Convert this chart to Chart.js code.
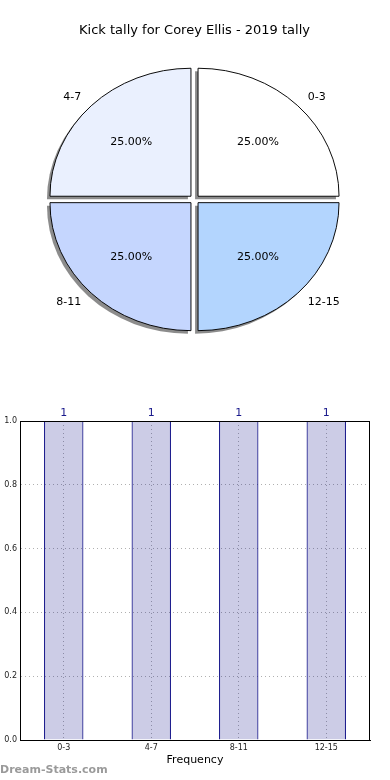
<!DOCTYPE html>
<html>
<head>
<meta charset="utf-8">
<script src="https://cdn.jsdelivr.net/npm/chart.js@4/dist/chart.umd.min.js"></script>
<style>
  html,body{margin:0;padding:0;background:#fff;}
  #wrap{position:relative;width:390px;height:780px;overflow:hidden;}
  #pieCanvas{position:absolute;left:0;top:0;}
  #barCanvas{position:absolute;left:0;top:380px;}
</style>
</head>
<body>
<div id="wrap">
  <canvas id="pieCanvas" width="390" height="380"></canvas>
  <canvas id="barCanvas" width="390" height="400"></canvas>
</div>
<script>
// data
const TITLE="Kick tally for Corey Ellis - 2019 tally";
const BINS=["0-3","4-7","8-11","12-15"];
const COUNTS=[1,1,1,1];
const PIE_COLORS=["#ffffff","#eaf0fe","#c5d6fe","#b3d5fe"];
const Y_TICKS=[0,0.2,0.4,0.6,0.8,1.0];
const X_TITLE="Frequency";
const WATERMARK="Dream-Stats.com";

const FONT="'DejaVu Sans', sans-serif";
const OFFSET=20;          // explode
const SQUASH=128/141;     // pie is drawn as an ellipse
const SHADOW=3;

// mirror + squash so slices go counter-clockwise from 3 o'clock
function pieTransform(ctx,cx,cy){
  ctx.translate(cx,cy); ctx.scale(-1,SQUASH); ctx.translate(-cx,-cy);
}
function toView(cx,cy,px,py){return [cx-(px-cx), cy+(py-cy)*SQUASH];}

const piePlugin={
  id:"piePlugin",
  beforeDatasetsDraw(chart){
    const ctx=chart.ctx, arcs=chart.getDatasetMeta(0).data;
    if(!arcs.length) return;
    const cx=arcs[0].x, cy=arcs[0].y;
    // shadow
    ctx.save();
    ctx.translate(-SHADOW,SHADOW);
    pieTransform(ctx,cx,cy);
    ctx.fillStyle="rgba(0,0,0,0.45)";
    arcs.forEach(a=>{
      const mid=(a.startAngle+a.endAngle)/2, o=OFFSET/4;
      const sx=a.x+Math.cos(mid)*o, sy=a.y+Math.sin(mid)*o;
      ctx.beginPath(); ctx.moveTo(sx,sy);
      ctx.arc(sx,sy,a.outerRadius,a.startAngle,a.endAngle);
      ctx.closePath(); ctx.fill();
    });
    ctx.restore();
    ctx.save();
    pieTransform(ctx,cx,cy);
  },
  afterDatasetsDraw(chart){
    const ctx=chart.ctx, arcs=chart.getDatasetMeta(0).data;
    ctx.restore();
    if(!arcs.length) return;
    const total=COUNTS.reduce((a,b)=>a+b,0);
    ctx.save();
    ctx.font="11px "+FONT; ctx.fillStyle="#000"; ctx.textBaseline="middle";
    arcs.forEach((a,i)=>{
      const mid=(a.startAngle+a.endAngle)/2, o=OFFSET/4;
      const sx=a.x+Math.cos(mid)*o, sy=a.y+Math.sin(mid)*o;
      let [px,py]=toView(a.x,a.y,sx+Math.cos(mid)*a.outerRadius*0.6, sy+Math.sin(mid)*a.outerRadius*0.6);
      ctx.textAlign="center";
      ctx.fillText((COUNTS[i]/total*100).toFixed(2)+"%",px,py);
      [px,py]=toView(a.x,a.y,sx+Math.cos(mid)*a.outerRadius*1.1, sy+Math.sin(mid)*a.outerRadius*1.1);
      ctx.textAlign= px>a.x ? "left":"right";
      ctx.fillText(BINS[i],px,py);
    });
    ctx.restore();
  }
};

new Chart(document.getElementById("pieCanvas"),{
  type:"pie",
  data:{labels:BINS,datasets:[{data:COUNTS,backgroundColor:PIE_COLORS,borderColor:"#000",borderWidth:1,offset:OFFSET,hoverOffset:0}]},
  options:{
    responsive:false,animation:false,events:[],rotation:-90,
    layout:{padding:{top:0,left:43,right:44,bottom:29}},
    plugins:{
      legend:{display:false},tooltip:{enabled:false},
      title:{display:true,text:TITLE,color:"#000",font:{family:FONT,size:13,weight:"normal",lineHeight:1.3},padding:{top:22,bottom:9}}
    }
  },
  plugins:[piePlugin]
});

const barPlugin={
  id:"barPlugin",
  afterDatasetsDraw(chart){
    const ctx=chart.ctx, a=chart.chartArea;
    ctx.save();
    ctx.strokeStyle="#000"; ctx.lineWidth=1;
    ctx.strokeRect(a.left+0.5,a.top+0.5,a.right-a.left-1,a.bottom-a.top);
    ctx.font="11px "+FONT; ctx.fillStyle="#1a1a8c"; ctx.textAlign="center"; ctx.textBaseline="alphabetic";
    chart.getDatasetMeta(0).data.forEach((b,i)=>ctx.fillText(String(COUNTS[i]),b.x,b.y-5));
    ctx.font="bold 11px "+FONT; ctx.fillStyle="rgba(120,120,120,0.75)"; ctx.textAlign="left"; ctx.textBaseline="middle";
    ctx.fillText(WATERMARK,0,chart.height-10);
    ctx.restore();
  }
};

new Chart(document.getElementById("barCanvas"),{
  type:"bar",
  data:{labels:BINS,datasets:[{data:COUNTS,backgroundColor:"rgba(0,0,128,0.2)",borderColor:"#000080",borderWidth:1,barPercentage:0.45,categoryPercentage:1}]},
  options:{
    responsive:false,animation:false,events:[],
    layout:{padding:{top:41,right:20,left:0,bottom:0}},
    plugins:{legend:{display:false},tooltip:{enabled:false}},
    scales:{
      x:{
        grid:{offset:false,color:"#b0b0b0",drawTicks:false},
        border:{display:true,color:"#000",dash:[1,3]},
        ticks:{font:{family:FONT,size:8},color:"#222",padding:3},
        title:{display:true,text:X_TITLE,color:"#000",font:{family:FONT,size:11},padding:{top:0,bottom:13}},
        afterFit:s=>{s.height=40;}
      },
      y:{
        min:Y_TICKS[0],max:Y_TICKS[Y_TICKS.length-1],
        afterBuildTicks:s=>{s.ticks=Y_TICKS.map(v=>({value:v}));},
        grid:{color:"#b0b0b0",drawTicks:false},
        border:{display:true,color:"#000",dash:[1,3]},
        ticks:{font:{family:FONT,size:8},color:"#222",padding:3,callback:v=>Number(v).toFixed(1)},
        afterFit:s=>{s.width=20;}
      }
    }
  },
  plugins:[barPlugin]
});
</script>
</body>
</html>
